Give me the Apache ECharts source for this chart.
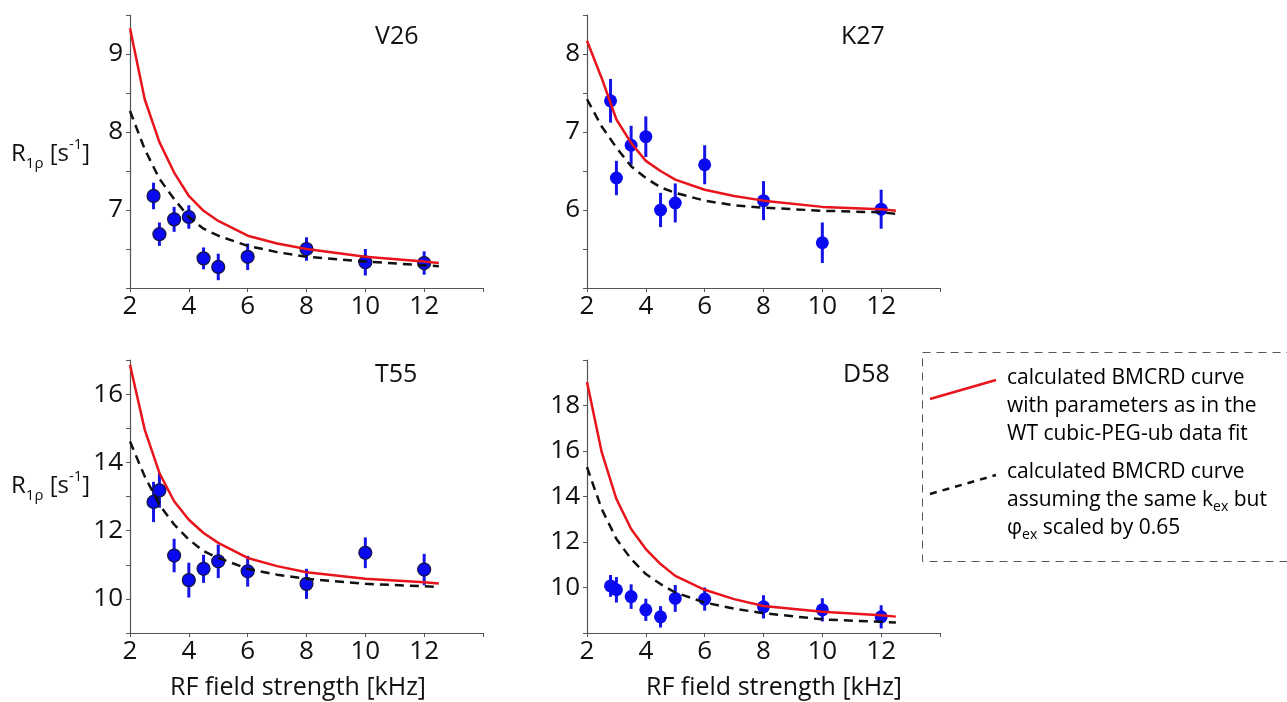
<!DOCTYPE html>
<html><head><meta charset="utf-8">
<script src="https://cdn.jsdelivr.net/npm/echarts@6/dist/echarts.min.js"></script>
<style>html,body{margin:0;padding:0;background:#fff}#c{width:1287px;height:702px}</style>
</head><body><div id="c"></div>
<script>
const PANEL_NAMES = ['V26', 'K27', 'T55', 'D58'];
const X_LABELS = [2, 4, 6, 8, 10, 12];
const CURVE_X = [2, 2.5, 3, 3.5, 4, 4.5, 5, 6, 7, 8, 10, 12, 12.5];
const V26_RED  = [9.33, 8.42, 7.87, 7.48, 7.18, 6.99, 6.86, 6.67, 6.57, 6.50, 6.40, 6.34, 6.32];
const V26_DASH = [8.27, 7.78, 7.40, 7.14, 6.91, 6.76, 6.67, 6.54, 6.46, 6.40, 6.34, 6.29, 6.28];
const K27_RED  = [8.17, 7.69, 7.16, 6.86, 6.63, 6.50, 6.39, 6.26, 6.18, 6.12, 6.04, 6.01, 5.99];
const K27_DASH = [7.42, 7.07, 6.80, 6.56, 6.41, 6.29, 6.22, 6.12, 6.06, 6.03, 5.99, 5.97, 5.95];
const T55_RED  = [16.86, 14.96, 13.69, 12.86, 12.32, 11.93, 11.64, 11.20, 10.96, 10.78, 10.59, 10.49, 10.45];
const T55_DASH = [14.61, 13.59, 12.76, 12.18, 11.74, 11.40, 11.20, 10.88, 10.71, 10.59, 10.44, 10.37, 10.35];
const D58_RED  = [19.03, 15.95, 13.89, 12.57, 11.69, 11.03, 10.51, 9.90, 9.49, 9.19, 8.93, 8.78, 8.72];
const D58_DASH = [15.29, 13.45, 12.13, 11.25, 10.59, 10.15, 9.78, 9.34, 9.07, 8.87, 8.60, 8.49, 8.46];

const DATA_X = [2.8, 3, 3.5, 4, 4.5, 5, 6, 8, 10, 12];
const V26_Y   = [7.18, 6.69, 6.88, 6.91, 6.38, 6.27, 6.40, 6.50, 6.33, 6.32];
const V26_ERR = [0.17, 0.15, 0.16, 0.15, 0.14, 0.17, 0.17, 0.15, 0.17, 0.15];
const K27_Y   = [7.40, 6.41, 6.83, 6.94, 6.00, 6.09, 6.58, 6.12, 5.58, 6.01];
const K27_ERR = [0.28, 0.22, 0.25, 0.26, 0.22, 0.25, 0.25, 0.25, 0.26, 0.25];
const T55_Y   = [12.84, 13.18, 11.27, 10.55, 10.88, 11.10, 10.81, 10.44, 11.35, 10.86];
const T55_ERR = [0.59, 0.51, 0.49, 0.51, 0.41, 0.49, 0.45, 0.44, 0.45, 0.46];
const D58_Y   = [10.07, 9.90, 9.60, 9.02, 8.71, 9.52, 9.49, 9.15, 9.02, 8.71];
const D58_ERR = [0.48, 0.56, 0.54, 0.49, 0.47, 0.59, 0.51, 0.51, 0.51, 0.51];

const Y_MIN = [6, 5, 9, 8];
const Y_MAX = [9.5, 8.5, 17, 20];
const Y_TICK_STEP = [0.5, 0.5, 1, 2];
const Y_LABEL_STEP = [1, 1, 2, 2];

const X_NAME = 'RF field strength [kHz]';
const LEGEND_RED = ['calculated BMCRD curve', 'with parameters as in the', 'WT cubic-PEG-ub data fit'];
const LEGEND_DASH = ['calculated BMCRD curve', 'assuming the same k_ex but', 'φ_ex scaled by 0.65'];

const REDS = [V26_RED, K27_RED, T55_RED, D58_RED];
const DASHES = [V26_DASH, K27_DASH, T55_DASH, D58_DASH];
const YS = [V26_Y, K27_Y, T55_Y, D58_Y];
const ERRS = [V26_ERR, K27_ERR, T55_ERR, D58_ERR];
const OUTLINE = [true, false, true, false];

const FONT = '"Open Sans", "Noto Sans", sans-serif';
const GRIDS = [
  {left: 130, top: 15, width: 353, height: 273},
  {left: 587, top: 15, width: 353, height: 273},
  {left: 130, top: 360, width: 353, height: 273},
  {left: 587, top: 360, width: 353, height: 273}
];

const isMult = (v, s) => Math.abs(v / s - Math.round(v / s)) < 1e-6;

const chart = echarts.init(document.getElementById('c'));
const grid = [], xAxis = [], yAxis = [], series = [];
GRIDS.forEach((g, i) => {
  grid.push(Object.assign({containLabel: false}, g));
  xAxis.push({
    type: 'value', gridIndex: i, min: 2, max: 14, interval: 2,
    axisLine: {lineStyle: {color: '#555', width: 1.2}},
    axisTick: {show: true, inside: false, length: 4, lineStyle: {color: '#555'}},
    splitLine: {show: false},
    axisLabel: {
      margin: 6, fontSize: 26, color: '#111', fontFamily: FONT,
      formatter: v => (X_LABELS.indexOf(v) >= 0 ? String(v) : '')
    }
  });
  yAxis.push({
    type: 'value', gridIndex: i, min: Y_MIN[i], max: Y_MAX[i], interval: Y_TICK_STEP[i],
    axisLine: {show: true, lineStyle: {color: '#555', width: 1.2}},
    axisTick: {show: true, inside: false, length: 4, lineStyle: {color: '#555'}},
    splitLine: {show: false},
    axisLabel: {
      margin: 7, fontSize: 26, color: '#111', fontFamily: FONT,
      formatter: v => (isMult(v, Y_LABEL_STEP[i]) && v > Y_MIN[i] && v < Y_MAX[i]) ? String(v) : ''
    }
  });
  series.push({
    type: 'custom', xAxisIndex: i, yAxisIndex: i, z: 2,
    data: DATA_X.map((x, k) => [x, YS[i][k] - ERRS[i][k], YS[i][k] + ERRS[i][k]]),
    encode: {x: 0, y: [1, 2]},
    renderItem: (params, api) => {
      const p1 = api.coord([api.value(0), api.value(1)]);
      const p2 = api.coord([api.value(0), api.value(2)]);
      return {type: 'line', shape: {x1: p1[0], y1: p1[1], x2: p2[0], y2: p2[1]},
        style: {stroke: '#1414e6', lineWidth: 3}};
    },
    silent: true
  });
  series.push({
    type: 'scatter', xAxisIndex: i, yAxisIndex: i, z: 3,
    data: DATA_X.map((x, k) => [x, YS[i][k]]),
    symbol: 'circle', symbolSize: 13,
    itemStyle: {color: '#0a0af0', borderColor: OUTLINE[i] ? '#141440' : '#0a0af0', borderWidth: OUTLINE[i] ? 1.2 : 0, opacity: 1},
    silent: true
  });
  series.push({
    type: 'line', xAxisIndex: i, yAxisIndex: i, z: 4,
    data: CURVE_X.map((x, k) => [x, DASHES[i][k]]),
    showSymbol: false, smooth: false,
    lineStyle: {color: '#111', width: 2.5, type: [9, 6]},
    silent: true
  });
  series.push({
    type: 'line', xAxisIndex: i, yAxisIndex: i, z: 5,
    data: CURVE_X.map((x, k) => [x, REDS[i][k]]),
    showSymbol: false, smooth: false,
    lineStyle: {color: '#e8141b', width: 2.5},
    silent: true
  });
});

const yNameRich = {
  r: {fontSize: 24, lineHeight: 34, fontFamily: FONT, color: '#111', verticalAlign: 'middle'},
  sub: {fontSize: 15, lineHeight: 15, fontFamily: FONT, color: '#111', verticalAlign: 'bottom'},
  sup: {fontSize: 15, lineHeight: 15, fontFamily: FONT, color: '#111', verticalAlign: 'top'}
};
const yNameText = '{r|R}{sub|1ρ}{r| [s}{sup|-1}{r|]}';
const legRich = {
  t: {fontSize: 21, lineHeight: 28, fontFamily: FONT, color: '#111'},
  s: {fontSize: 14, lineHeight: 14, fontFamily: FONT, color: '#111', verticalAlign: 'bottom'}
};
const richLine = s => s.replace(/^(.*?)(?:_ex)(.*)$/, '{t|$1}{s|ex}{t|$2}').replace(/^([^{].*)$/, '{t|$1}');

const graphic = [];
const TITLE_POS = [[397, 40], [863, 40], [397, 378], [865, 378]];
PANEL_NAMES.forEach((n, i) => {
  graphic.push({type: 'text', left: TITLE_POS[i][0] - 22, top: TITLE_POS[i][1] - 16,
    style: {text: n, fontSize: 25, fontFamily: FONT, fill: '#111'}});
});
[[11, 137], [11, 469]].forEach(p => {
  graphic.push({type: 'text', x: p[0], y: p[1],
    style: {text: yNameText, rich: yNameRich, fill: '#111'}});
});
[[298, 688], [774, 688]].forEach(p => {
  graphic.push({type: 'text', x: p[0], y: p[1],
    style: {text: X_NAME, fontSize: 25, fontFamily: FONT, fill: '#111', align: 'center', verticalAlign: 'middle'}});
});
// legend box
graphic.push({type: 'rect', shape: {x: 922.5, y: 352.5, width: 400, height: 209},
  style: {fill: 'none', stroke: '#555', lineWidth: 1, lineDash: [8, 6]}});
graphic.push({type: 'line', shape: {x1: 930, y1: 399, x2: 996, y2: 380},
  style: {stroke: '#e8141b', lineWidth: 2.5}});
graphic.push({type: 'line', shape: {x1: 930, y1: 494, x2: 996, y2: 475},
  style: {stroke: '#111', lineWidth: 2.5, lineDash: [7, 6]}});
LEGEND_RED.forEach((s, k) => {
  graphic.push({type: 'text', x: 1007, y: 364 + k * 28,
    style: {text: richLine(s), rich: legRich}});
});
LEGEND_DASH.forEach((s, k) => {
  graphic.push({type: 'text', x: 1007, y: 458 + k * 28,
    style: {text: richLine(s), rich: legRich}});
});

chart.setOption({
  animation: false,
  backgroundColor: '#fff',
  grid, xAxis, yAxis, series, graphic
});
</script>
</body></html>
